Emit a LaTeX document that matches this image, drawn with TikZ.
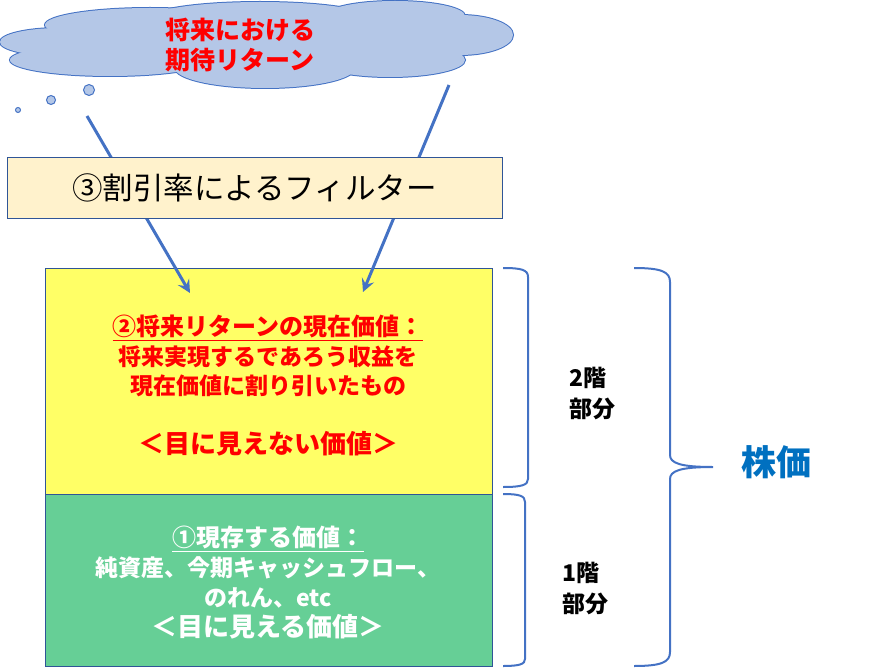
\documentclass[tikz,border=0pt]{standalone}
\usepackage{fontspec}
\setmainfont{Noto Sans CJK JP}
\usetikzlibrary{arrows.meta}
\definecolor{lineblue}{HTML}{4472C4}
\definecolor{edgeblue}{HTML}{2F5597}
\definecolor{cloudfill}{HTML}{B4C7E7}
\definecolor{cream}{HTML}{FFF2CC}
\definecolor{lemon}{HTML}{FFFF66}
\definecolor{mint}{HTML}{66CF96}
\definecolor{priceblue}{HTML}{0070C0}
\tikzset{
  lobe/.style={draw=lineblue, line width=2pt, fill=cloudfill},
  lobefill/.style={fill=cloudfill},
  panel/.style={draw=edgeblue, line width=1pt},
  feed/.style={draw=lineblue, line width=3pt, -{Stealth[length=13pt,width=13pt,inset=5pt]}},
  bracket/.style={draw=lineblue, line width=2pt},
  floor/.style={font=\bfseries\fontsize{23}{31}\selectfont, align=left, anchor=west}
}
\begin{document}
\begin{tikzpicture}[x=1pt, y=-1pt]
    \useasboundingbox (0,0) rectangle (874,668);
    % cloud
    \foreach \cx/\cy/\rx/\ry in {60/42/60/14, 110/60/100/16, 150/25/105/17, 260/18/110/16,
        265/68/90/20, 395/16/70/15, 460/35/53/20, 390/60/75/17}
      \path[lobe] (\cx,\cy) ellipse [x radius=\rx, y radius=\ry];
    \foreach \cx/\cy/\rx/\ry in {60/42/60/14, 110/60/100/16, 150/25/105/17, 260/18/110/16,
        265/68/90/20, 395/16/70/15, 460/35/53/20, 390/60/75/17, 260/42/200/24}
      \path[lobefill] (\cx,\cy) ellipse [x radius=\rx, y radius=\ry];
    \draw[lineblue, fill=cloudfill, line width=1pt] (89,90) circle (5.5) (51,100) circle (4.5) (18,110) circle (2.5);
    \node[text=red, font=\bfseries\fontsize{25}{30}\selectfont, align=center] (hope) at (240,45) {将来における\\期待リターン};
    % two floors
    \node[panel, fill=lemon, minimum width=447, minimum height=226] (upper) at (268.5,381) {};
    \node[panel, fill=mint, minimum width=447, minimum height=172] (lower) at (268.5,580) {};
    % feeds through the filter
    \coordinate (l1) at (87,116);
    \coordinate (l2) at (190,293);
    \coordinate (r1) at (449,85);
    \coordinate (r2) at (363,292);
    \draw[feed] (l1) -- (l2);
    \draw[feed] (r1) -- (r2);
    \node[panel, fill=cream, minimum width=495, minimum height=61, font=\fontsize{30.5}{34}\selectfont] (filter) at (254.5,188) {③割引率によるフィルター};
    \node[text=red, font=\bfseries\fontsize{23}{29.5}\selectfont, align=center] (future) at (268,386)
      {\underline{{\fontsize{24}{29.5}\selectfont ②将来リターンの現在価値：}}\\将来実現するであろう収益を\\現在価値に割り引いたもの\\[29.5pt]{\fontsize{26}{29.5}\selectfont ＜目に見えない価値＞}};
    \node[text=white, font=\bfseries\fontsize{23}{30}\selectfont, align=center] (present) at (268,583)
      {\underline{{\fontsize{24}{30}\selectfont ①現存する価値：}}\\純資産、今期キャッシュフロー、\\のれん、etc\\{\fontsize{26}{30}\selectfont ＜目に見える価値＞}};
    % braces
    \draw[bracket] (503,268) .. controls (522,268) and (528,270) .. (528,277) -- (528,479) .. controls (528,485) and (522,487) .. (503,487);
    \draw[bracket] (503,494) .. controls (520,494) and (525,496) .. (525,502) -- (525,659) .. controls (525,664) and (520,666) .. (503,666);
    \draw[bracket] (634,268) .. controls (662,268) and (670,272) .. (670,282) -- (670,455)
      .. controls (670,463) and (680,467) .. (713,467)
      .. controls (680,467) and (670,471) .. (670,479) -- (670,652)
      .. controls (670,662) and (662,666) .. (634,666);
    \node[floor] (second) at (566,394) {2階\\部分};
    \node[floor] (first) at (559,589) {1階\\部分};
    \node[text=priceblue, font=\bfseries\fontsize{35}{40}\selectfont] (price) at (776,462) {株価};
\end{tikzpicture}
\end{document}
